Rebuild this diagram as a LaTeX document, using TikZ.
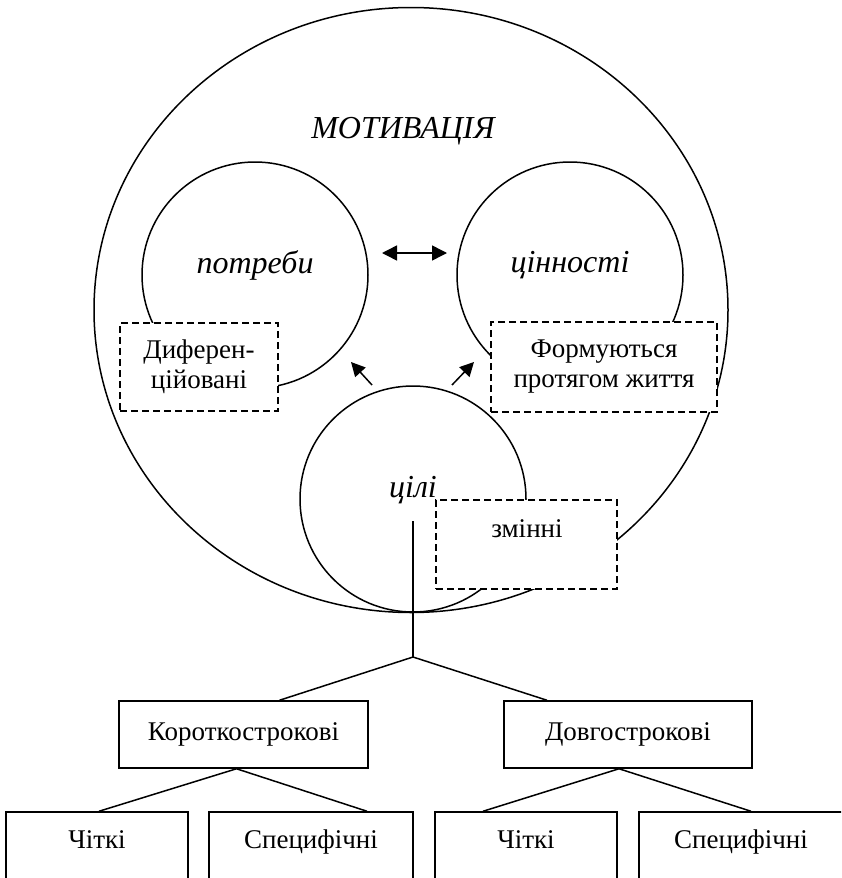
\documentclass[tikz,border=0pt]{standalone}
\usepackage{fontspec}
\setmainfont{Liberation Serif}[ItalicFont={Liberation Serif Italic}]
\usetikzlibrary{shapes.geometric,arrows.meta,calc}
\begin{document}
\begin{tikzpicture}[x=1pt,y=-1pt, line width=1.5pt,
  lbl/.style={font=\fontsize{32}{36}\selectfont\itshape, anchor=base, inner sep=0},
  txt/.style={font=\fontsize{27}{30}\selectfont, align=center},
  plain/.style={font=\fontsize{27}{30}\selectfont, anchor=base, inner sep=0},
  dbox/.style={draw, dash pattern=on 7pt off 4pt, fill=white, inner sep=0, txt},
  sbox/.style={draw, fill=white, inner sep=0, txt},
  ring/.style={draw, circle, minimum size=226pt, inner sep=0},
]
\useasboundingbox (0,0) rectangle (841,878);
\clip (0,0) rectangle (841,878);
% outer ellipse
\node[draw, ellipse, minimum width=634pt, minimum height=605pt, inner sep=0] (mot) at (411,310) {};
% circles
\node[ring] (pot) at (255,275) {};
\node[ring] (cin) at (570,275) {};
\node[ring] (cil) at (413,499) {};
% dashed boxes
\node[dbox, minimum width=158pt, minimum height=88pt] (dif) at (199,367) {Диферен-\\ційовані};
\node[dbox, minimum width=226pt, minimum height=90pt] (form) at (604,367) {Формуються\\протягом життя};
\node[dbox, minimum width=181pt, minimum height=89pt] (zmi) at (526.5,544.5) {};
\node[plain] (zmit) at (527,537) {змінні};
% labels
\node[lbl] (motl) at (403,138) {МОТИВАЦІЯ};
\node[lbl] (potl) at (255,273) {потреби};
\node[lbl] (cinl) at (570,272) {цінності};
\node[lbl] (cill) at (413,497) {цілі};
% arrows
\coordinate (da1) at (382,253);
\coordinate (da2) at (447,253);
\draw[{Triangle[length=15pt,width=15pt]}-{Triangle[length=15pt,width=15pt]}] (da1) -- (da2);
\coordinate (la1) at (372,385);
\coordinate (la2) at (351,362);
\draw[-{Triangle[length=14pt,width=14pt]}] (la1) -- (la2);
\coordinate (ra1) at (452,385);
\coordinate (ra2) at (474,362);
\draw[-{Triangle[length=14pt,width=14pt]}] (ra1) -- (ra2);
% tree
\node[sbox, minimum width=249pt, minimum height=67pt] (kor) at (243.5,734.5) {Короткострокові};
\node[sbox, minimum width=248pt, minimum height=67pt] (dov) at (628,734.5) {Довгострокові};
\node[sbox, minimum width=182pt, minimum height=90pt] (b1) at (97,857) {};
\node[sbox, minimum width=204pt, minimum height=90pt] (b2) at (311,857) {};
\node[sbox, minimum width=182pt, minimum height=90pt] (b3) at (526,857) {};
\node[sbox, minimum width=204pt, minimum height=90pt] (b4) at (741,857) {};
\node[plain] (b1t) at (97,848) {Чіткі};
\node[plain] (b2t) at (311,848) {Специфічні};
\node[plain] (b3t) at (526,848) {Чіткі};
\node[plain] (b4t) at (741,848) {Специфічні};
\coordinate (stem) at (413,521);
\coordinate (jn) at (413,657);
\draw (stem) -- (jn);
\draw (jn) -- ([xshift=36pt]kor.north);
\draw (jn) -- ([xshift=-81pt]dov.north);
\draw ([xshift=-7pt]kor.south) -- ([xshift=2pt]b1.north);
\draw ([xshift=-7pt]kor.south) -- ([xshift=56pt]b2.north);
\draw ([xshift=-9pt]dov.south) -- ([xshift=-43pt]b3.north);
\draw ([xshift=-9pt]dov.south) -- ([xshift=10pt]b4.north);
\end{tikzpicture}
\end{document}
